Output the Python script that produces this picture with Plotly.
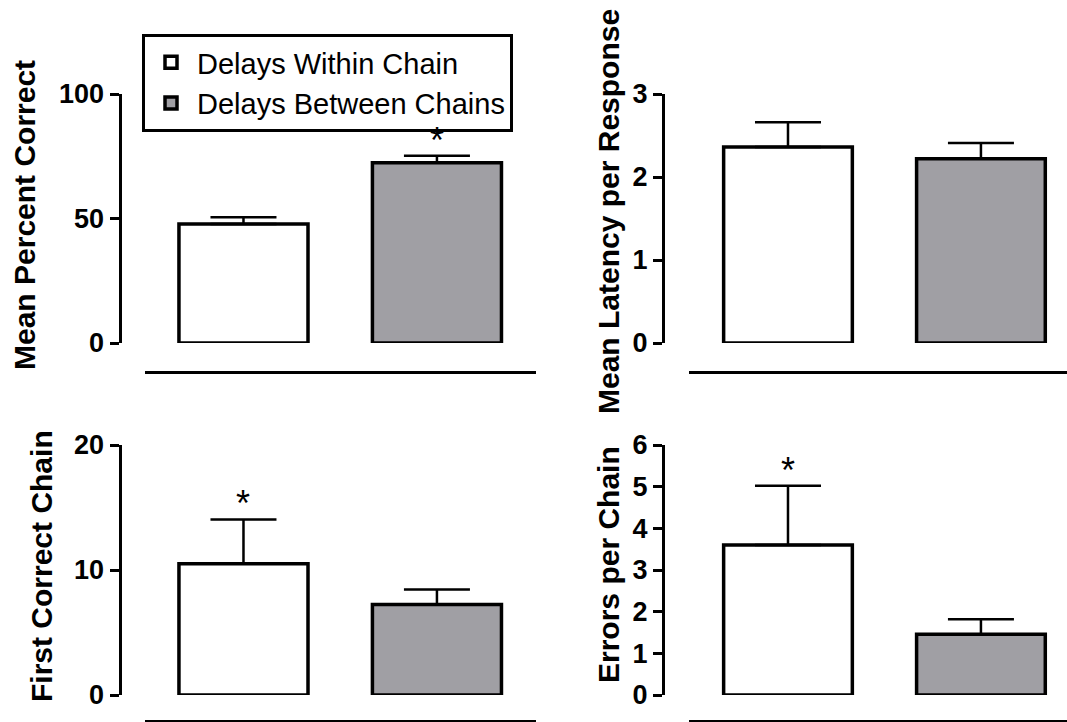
import plotly.graph_objects as go

# ---- data ----
categories = ["Delays Within Chain", "Delays Between Chains"]
pct_mean = [47.8, 72.4]
pct_sem = [2.7, 2.8]
lat_mean = [2.36, 2.22]
lat_sem = [0.30, 0.19]
first_mean = [10.5, 7.25]
first_sem = [3.55, 1.2]
err_mean = [3.6, 1.46]
err_sem = [1.42, 0.36]

panel_titles = ["Mean Percent Correct", "Mean Latency per Response",
                "First Correct Chain", "Errors per Chain"]
panel_ticks = [[0, 50, 100], [0, 1, 2, 3], [0, 10, 20], [0, 1, 2, 3, 4, 5, 6]]
panel_ranges = [[0, 100], [0, 3], [0, 20], [0, 6]]
signif = [[False, True], [False, False], [True, False], [True, False]]

W, H = 1067, 722
FONT = "Arial, Liberation Sans, sans-serif"
fill_colors = ["white", "#a09fa4"]

means = [pct_mean, lat_mean, first_mean, err_mean]
sems = [pct_sem, lat_sem, first_sem, err_sem]

# layout geometry in pixels
xdom_px = [(145, 536), (689, 1067), (145, 536), (689, 1067)]
xrng = [[-0.509, 1.512], [-0.513, 1.446], [-0.509, 1.512], [-0.513, 1.446]]
ydom_px = [(94, 343), (94, 343), (445, 695), (445, 695)]
yaxis_x_px = [119.5, 663, 119.5, 663]
xline_y_px = [372, 372, 721, 721]
title_pos_px = [(25, 215), (608, 212), (41, 566), (608, 565)]

fig = go.Figure()
layout = dict(
    width=W, height=H,
    margin=dict(l=0, r=0, t=0, b=0, pad=0, autoexpand=False),
    paper_bgcolor="white", plot_bgcolor="white",
    barmode="overlay", showlegend=True,
    font=dict(family=FONT, color="black"),
    legend=dict(x=142 / W, y=1 - 34 / H, xanchor="left", yanchor="top",
                bordercolor="black", borderwidth=3, bgcolor="white",
                font=dict(family=FONT, size=29, color="black"),
                itemwidth=42, tracegroupgap=0, traceorder="normal"),
)
annotations = []

for p in range(4):
    xa = "x" if p == 0 else f"x{p+1}"
    ya = "y" if p == 0 else f"y{p+1}"
    for i in range(2):
        fig.add_trace(go.Bar(
            x=[categories[i]], y=[means[p][i]], name=categories[i],
            xaxis=xa, yaxis=ya, width=0.667,
            marker=dict(color=fill_colors[i], line=dict(color="black", width=3.5)),
            error_y=dict(type="data", symmetric=False, array=[sems[p][i]], arrayminus=[0],
                         color="black", thickness=2.5, width=33),
            legendgroup=categories[i], showlegend=(p == 0), cliponaxis=False,
        ))
        if signif[p][i]:
            annotations.append(dict(
                x=categories[i], y=means[p][i] + sems[p][i], xref=xa, yref=ya,
                text="*", showarrow=False, yanchor="bottom", yshift=-7,
                font=dict(family=FONT, size=36, color="black")))
    xkey = "xaxis" if p == 0 else f"xaxis{p+1}"
    ykey = "yaxis" if p == 0 else f"yaxis{p+1}"
    layout[xkey] = dict(
        domain=[xdom_px[p][0] / W, xdom_px[p][1] / W], range=xrng[p],
        type="category", categoryorder="array", categoryarray=categories,
        anchor="free", position=max(0.0, 1 - xline_y_px[p] / H),
        showline=True, linewidth=3, linecolor="black", automargin=False,
        showticklabels=False, ticks="", showgrid=False, zeroline=False, fixedrange=True)
    layout[ykey] = dict(
        domain=[1 - ydom_px[p][1] / H, 1 - ydom_px[p][0] / H], range=panel_ranges[p],
        anchor="free", position=yaxis_x_px[p] / W, automargin=False,
        showline=True, linewidth=3, linecolor="black",
        ticks="outside", ticklen=9, tickwidth=3, tickcolor="black",
        tickvals=panel_ticks[p], ticktext=[str(t) for t in panel_ticks[p]],
        tickfont=dict(family=FONT, size=27, color="black", weight="bold"),
        showgrid=False, zeroline=False, fixedrange=True)
    annotations.append(dict(
        x=title_pos_px[p][0] / W, y=1 - title_pos_px[p][1] / H, xref="paper", yref="paper",
        text=panel_titles[p], textangle=-90, showarrow=False,
        xanchor="center", yanchor="middle",
        font=dict(family=FONT, size=30, color="black", weight="bold")))

layout["annotations"] = annotations
fig.update_layout(**layout)
fig.write_html("out.html")
